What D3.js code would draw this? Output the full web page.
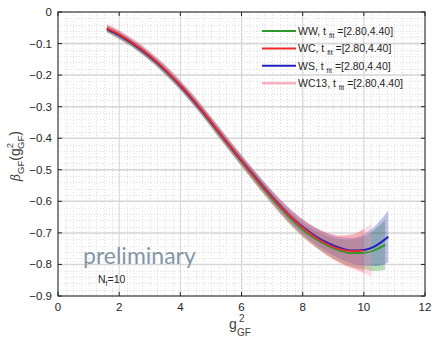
<!DOCTYPE html>
<html>
<head>
<meta charset="utf-8">
<script src="https://cdn.jsdelivr.net/npm/d3@7"></script>
<style>
  body { margin: 0; background: #fff; }
  svg { display: block; font-family: "Liberation Sans", Arial, sans-serif; }
</style>
</head>
<body>
<div id="chart"></div>
<script>
// common coupling grid (g^2_GF) up to 9.6, each series adds its own tail
var gBase = [1.6, 2.0, 2.4, 2.8, 3.2, 3.6, 4.0, 4.4, 4.8, 5.2, 5.6, 6.0, 6.4, 6.8, 7.2, 7.6, 8.0, 8.4, 8.8, 9.2, 9.6];

// WS (blue)
var gWS    = gBase.concat([10.0, 10.4, 10.8]);
var betaWS = [-0.053, -0.073, -0.097, -0.125, -0.157, -0.193, -0.233, -0.277, -0.324, -0.373, -0.422, -0.470,
              -0.517, -0.563, -0.607, -0.647, -0.681, -0.709, -0.731, -0.747, -0.756, -0.754, -0.740, -0.712];
var errWS  = [0.010, 0.011, 0.011, 0.012, 0.012, 0.013, 0.013, 0.014, 0.014, 0.015, 0.015, 0.016,
              0.017, 0.018, 0.019, 0.021, 0.023, 0.026, 0.029, 0.034, 0.040, 0.050, 0.065, 0.082];

// WW (green)
var gWW    = gBase.concat([10.0, 10.35, 10.7]);
var betaWW = [-0.055, -0.075, -0.099, -0.127, -0.159, -0.195, -0.235, -0.279, -0.326, -0.376, -0.425, -0.474,
              -0.522, -0.569, -0.614, -0.655, -0.690, -0.718, -0.740, -0.756, -0.764, -0.763, -0.755, -0.738];
var errWW  = [0.010, 0.011, 0.011, 0.012, 0.012, 0.013, 0.013, 0.014, 0.014, 0.015, 0.015, 0.016,
              0.017, 0.018, 0.019, 0.021, 0.023, 0.026, 0.030, 0.036, 0.043, 0.052, 0.066, 0.080];

// WC (red)
var gWC    = gBase.concat([10.0]);
var betaWC = [-0.051, -0.071, -0.095, -0.123, -0.155, -0.191, -0.231, -0.275, -0.322, -0.372, -0.421, -0.470,
              -0.518, -0.564, -0.608, -0.648, -0.683, -0.712, -0.735, -0.751, -0.758, -0.756];
var errWC  = [0.011, 0.012, 0.012, 0.013, 0.013, 0.014, 0.014, 0.015, 0.015, 0.016, 0.016, 0.017,
              0.018, 0.019, 0.021, 0.023, 0.026, 0.030, 0.035, 0.042, 0.052, 0.068];

// WC13 (pink)
var gWC13    = gBase.concat([10.0, 10.25]);
var betaWC13 = [-0.050, -0.070, -0.094, -0.122, -0.154, -0.190, -0.230, -0.274, -0.321, -0.371, -0.421, -0.470,
                -0.518, -0.565, -0.609, -0.649, -0.684, -0.713, -0.736, -0.752, -0.759, -0.758, -0.755];
var errWC13  = [0.012, 0.013, 0.013, 0.014, 0.014, 0.015, 0.015, 0.016, 0.016, 0.017, 0.017, 0.018,
                0.019, 0.020, 0.022, 0.024, 0.027, 0.031, 0.037, 0.045, 0.055, 0.070, 0.085];

var seriesNames = ['WW', 'WC', 'WS', 'WC13'];
var fitRange = '[2.80,4.40]';

var xTicks = [0, 2, 4, 6, 8, 10, 12];
var yTicks = [0, -0.1, -0.2, -0.3, -0.4, -0.5, -0.6, -0.7, -0.8, -0.9];

var W = 432, H = 338;
var margin = {left: 58, top: 12, right: 7, bottom: 42};
var width = W - margin.left - margin.right;
var height = H - margin.top - margin.bottom;

var x = d3.scaleLinear().domain([0, 12]).range([0, width]);
var y = d3.scaleLinear().domain([-0.9, 0]).range([height, 0]);

var svg = d3.select('#chart').append('svg')
    .attr('width', W)
    .attr('height', H);

var g = svg.append('g')
    .attr('transform', 'translate(' + margin.left + ',' + margin.top + ')');

// minor grid (dotted)
var grid = g.append('g').attr('class', 'grid');
grid.selectAll('line.minx').data(d3.range(0, 12.001, 0.25))
    .enter().append('line')
    .attr('x1', function(d) { return Math.round(x(d)) + 0.5; })
    .attr('x2', function(d) { return Math.round(x(d)) + 0.5; })
    .attr('y1', 0).attr('y2', height)
    .attr('stroke', '#e0e0e0').attr('stroke-width', 1)
    .attr('stroke-dasharray', '1,2');
grid.selectAll('line.miny').data(d3.range(0, 45.5, 1).map(function(i) { return -i * 0.02; }))
    .enter().append('line')
    .attr('y1', function(d) { return Math.round(y(d)) + 0.5; })
    .attr('y2', function(d) { return Math.round(y(d)) + 0.5; })
    .attr('x1', 0).attr('x2', width)
    .attr('stroke', '#e0e0e0').attr('stroke-width', 1)
    .attr('stroke-dasharray', '1,2');

// major grid
grid.selectAll('line.majx').data(xTicks)
    .enter().append('line')
    .attr('x1', function(d) { return x(d); })
    .attr('x2', function(d) { return x(d); })
    .attr('y1', 0).attr('y2', height)
    .attr('stroke', '#d6d6d6').attr('stroke-width', 1);
grid.selectAll('line.majy').data(yTicks)
    .enter().append('line')
    .attr('y1', function(d) { return y(d); })
    .attr('y2', function(d) { return y(d); })
    .attr('x1', 0).attr('x2', width)
    .attr('stroke', '#d6d6d6').attr('stroke-width', 1.5);

// bands and lines
function pack(gs, bs, es) {
    return gs.map(function(v, i) { return {g: v, b: bs[i], e: es[i]}; });
}
var series = [
    {name: 'WW',   data: pack(gWW, betaWW, errWW),       fill: 'rgba(40,150,40,0.33)',  line: '#2e9a2e', lw: 1.8},
    {name: 'WC',   data: pack(gWC, betaWC, errWC),       fill: 'rgba(235,50,50,0.3)',   line: '#f02828', lw: 1.8},
    {name: 'WS',   data: pack(gWS, betaWS, errWS),       fill: 'rgba(50,50,190,0.3)',   line: '#2020c0', lw: 2},
    {name: 'WC13', data: pack(gWC13, betaWC13, errWC13), fill: 'rgba(250,150,170,0.33)', line: '#f8b0c0', lw: 1.5}
];

var area = d3.area()
    .x(function(d) { return x(d.g); })
    .y0(function(d) { return y(d.b - d.e); })
    .y1(function(d) { return y(d.b + d.e); })
    .curve(d3.curveMonotoneX);
var line = d3.line()
    .x(function(d) { return x(d.g); })
    .y(function(d) { return y(d.b); })
    .curve(d3.curveMonotoneX);

series.forEach(function(s) {
    g.append('path').datum(s.data)
        .attr('d', area)
        .attr('fill', s.fill)
        .attr('stroke', 'none');
});
// draw lines: pink, green, blue, red on top
[3, 0, 2, 1].forEach(function(i) {
    var s = series[i];
    g.append('path').datum(s.data)
        .attr('d', line)
        .attr('fill', 'none')
        .attr('stroke', s.line)
        .attr('stroke-width', s.lw);
});

// axes box with inward ticks
var axisCol = '#262626';
var axes = g.append('g').attr('class', 'axes');
axes.append('rect')
    .attr('x', 0).attr('y', 0).attr('width', width).attr('height', height)
    .attr('fill', 'none').attr('stroke', axisCol).attr('stroke-width', 1);
xTicks.forEach(function(t) {
    axes.append('line').attr('x1', x(t)).attr('x2', x(t)).attr('y1', height).attr('y2', height - 4)
        .attr('stroke', axisCol);
    axes.append('line').attr('x1', x(t)).attr('x2', x(t)).attr('y1', 0).attr('y2', 4)
        .attr('stroke', axisCol);
    axes.append('text').attr('x', x(t)).attr('y', height + 15)
        .attr('text-anchor', 'middle').attr('font-size', 11.5).attr('fill', '#262626')
        .text(t);
});
yTicks.forEach(function(t) {
    axes.append('line').attr('x1', 0).attr('x2', 4).attr('y1', y(t)).attr('y2', y(t))
        .attr('stroke', axisCol);
    axes.append('line').attr('x1', width).attr('x2', width - 4).attr('y1', y(t)).attr('y2', y(t))
        .attr('stroke', axisCol);
    axes.append('text').attr('x', -6).attr('y', y(t) + 4)
        .attr('text-anchor', 'end').attr('font-size', 11.5).attr('fill', '#262626')
        .text(t === 0 ? '0' : d3.format('.1f')(t));
});

// axis labels
var labCol = '#404040';
svg.append('text').attr('x', 229).attr('y', 329).attr('font-size', 14).attr('fill', labCol).text('g');
svg.append('text').attr('x', 239).attr('y', 322).attr('font-size', 10).attr('fill', labCol).text('2');
svg.append('text').attr('x', 237).attr('y', 336).attr('font-size', 10).attr('fill', labCol).text('GF');

var yl = svg.append('g').attr('transform', 'translate(20,156) rotate(-90)');
var ylt = yl.append('text').attr('text-anchor', 'middle').attr('font-size', 14).attr('fill', labCol);
ylt.append('tspan').attr('font-style', 'italic').attr('font-family', 'DejaVu Serif').attr('font-size', 12).text('\u03b2');
ylt.append('tspan').attr('font-size', 9.5).attr('dy', 4).text('GF');
ylt.append('tspan').attr('dy', -4).text('(g');
ylt.append('tspan').attr('font-size', 9.5).attr('dy', -7).text('2');
ylt.append('tspan').attr('font-size', 9.5).attr('dx', -6).attr('dy', 11).text('GF');
ylt.append('tspan').attr('dy', -4).text(')');

// legend
var legend = svg.append('g').attr('class', 'legend');
seriesNames.forEach(function(name, i) {
    var s = series[i];
    var ly = 31 + i * 17.4;
    legend.append('line')
        .attr('x1', 262).attr('x2', 296).attr('y1', ly).attr('y2', ly)
        .attr('stroke', s.line).attr('stroke-width', name === 'WC13' ? 2.5 : 2);
    var t = legend.append('text').attr('x', 298).attr('y', ly + 4)
        .attr('font-size', 10.5).attr('fill', '#262626');
    t.append('tspan').text(name + ', t ');
    t.append('tspan').attr('font-size', 7).attr('dy', 3).text('fit');
    t.append('tspan').attr('dy', -3).text(' =' + fitRange);
});

// annotations
svg.append('text').attr('x', 83).attr('y', 264)
    .attr('font-family', 'Lato, "Open Sans", sans-serif').attr('font-size', 23)
    .attr('fill', '#8396a8')
    .text('preliminary');
var nf = svg.append('text').attr('x', 98).attr('y', 283).attr('font-size', 10.5).attr('fill', '#262626');
nf.append('tspan').text('N');
nf.append('tspan').attr('font-size', 7).attr('dy', 3).text('f');
nf.append('tspan').attr('dy', -3).text('=10');
</script>
</body>
</html>
